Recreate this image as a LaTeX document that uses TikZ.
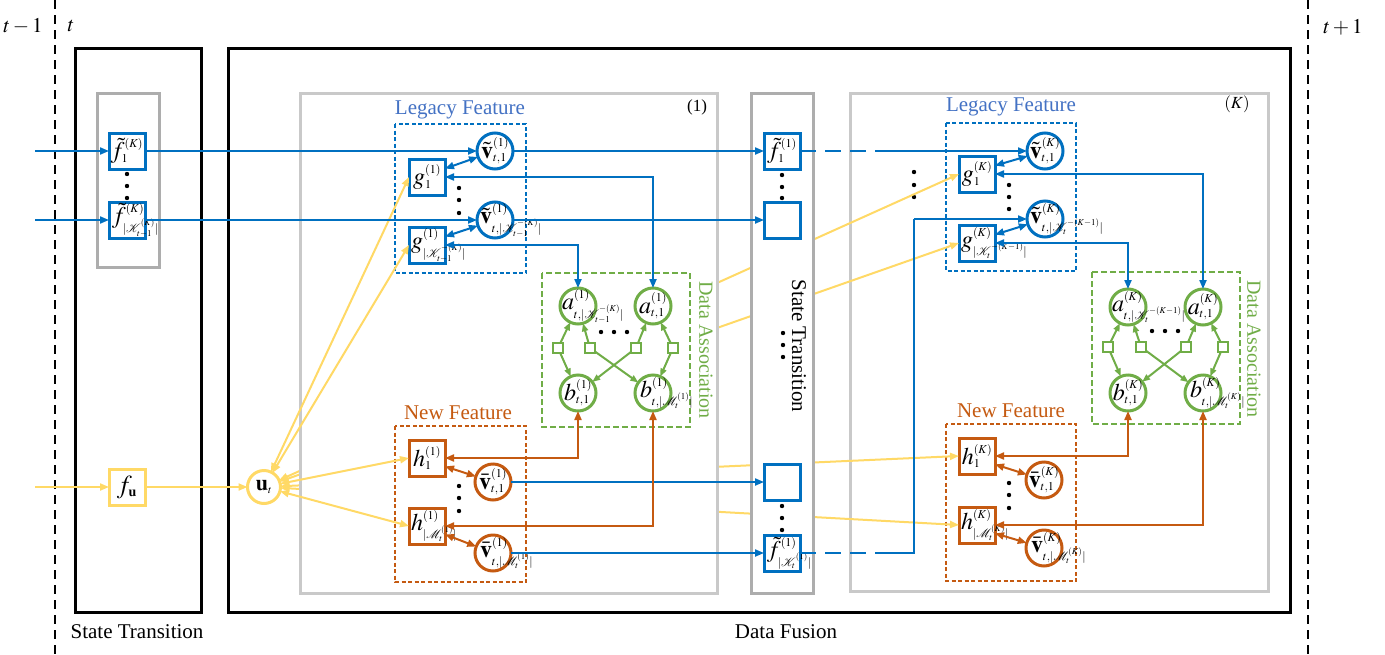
\documentclass[tikz,border=0pt]{standalone}
\usepackage{mathptmx}
\usepackage{fontspec}
\setmainfont{Liberation Serif}
\DeclareMathSizes{24}{24}{12}{9}
\DeclareMathSizes{26}{26}{14}{10}
\DeclareMathSizes{22}{22}{11}{8}
\usetikzlibrary{arrows.meta}
\definecolor{bl}{HTML}{0070C0}
\definecolor{lbl}{HTML}{4472C4}
\definecolor{orn}{HTML}{C55A11}
\definecolor{grn}{HTML}{70AD47}
\definecolor{yel}{HTML}{FFD966}
\definecolor{gA}{HTML}{C9C9C9}
\definecolor{gB}{HTML}{ADADAD}
\newcommand\nf{\fontsize{24}{26}\selectfont}
\newcommand\lf{\fontsize{21}{24}\selectfont}
\newcommand\inlab[1]{\makebox[0pt]{$#1$}}
\newcommand\leftlab[2][15]{\makebox[0pt][l]{\hspace*{-#1pt}$#2$}}
\newcommand\cK{\mathcal{K}}
\newcommand\cM{\mathcal{M}}
\tikzset{
  every node/.style={inner sep=0pt, outer sep=0pt},
  nbox/.style={rectangle, line width=3pt, fill=white, minimum width=36pt, minimum height=36pt, font=\nf},
  bbox/.style={nbox, draw=bl},
  obox/.style={nbox, draw=orn},
  ybox/.style={nbox, draw=yel},
  ncirc/.style={circle, line width=3pt, fill=white, minimum size=36pt, font=\nf},
  bcirc/.style={ncirc, draw=bl},
  ocirc/.style={ncirc, draw=orn},
  gcirc/.style={ncirc, draw=grn},
  ycirc/.style={ncirc, draw=yel, minimum size=33pt},
  fac/.style={rectangle, draw=grn, line width=1.5pt, fill=white, minimum size=10pt},
  ah/.style={-{Triangle[length=9pt,width=7pt]}},
  dah/.style={{Triangle[length=9pt,width=7pt]}-{Triangle[length=9pt,width=7pt]}},
  bline/.style={draw=bl, line width=2pt},
  oline/.style={draw=orn, line width=2pt},
  gline/.style={draw=grn, line width=2pt},
  yline/.style={draw=yel, line width=2pt},
  lab/.style={font=\lf},
  fdash/.style={line width=1.2pt, dash pattern=on 4pt off 2.5pt},
}
\begin{document}
\begin{tikzpicture}[x=1pt,y=-1pt]
\useasboundingbox (0,0) rectangle (1385,654);
% time separators
\draw[line width=2pt, dash pattern=on 9pt off 6pt] (55,0) -- (55,654);
\draw[line width=2pt, dash pattern=on 9pt off 6pt] (1308,0) -- (1308,654);
\node[lab] (tm1) at (23,26) {$t-1$};
\node[lab] (tt) at (71,26) {$t$};
\node[lab] (tp1) at (1343,27) {$t+1$};
% outer boxes
\draw[line width=3pt] (75,48) rectangle (201,612);
\draw[line width=3pt] (228,48) rectangle (1290,612);
\node[lab] (stlab) at (137,632) {State Transition};
\node[lab] (dflab) at (786,632) {Data Fusion};
% state transition column
\draw[gB, line width=3pt] (97,93) rectangle (159,267);
\node[bbox] (fs1) at (127,151) {\inlab{\tilde f_1^{(K)}}};
\node[bbox] (fsK) at (127,220) {\leftlab{\tilde f^{(K)}_{|\cK^{(K)}_{t-1}|}}};
\foreach \y in {174,186,198} \fill (127,\y) circle[radius=2.2];
\node[ybox, font=\fontsize{26}{28}\selectfont] (fu) at (127,487) {\inlab{f_{\mathbf u}}};
\node[ycirc, font=\fontsize{22}{24}\selectfont] (u) at (264,487) {\inlab{\mathbf u_t}};
\coordinate (inA) at (35,151);
\coordinate (inB) at (35,220);
\coordinate (inC) at (35,487);

% ===== (K) block =====
\draw[gA, line width=3pt, fill=white] (850,93) rectangle (1268,591);
\node[font=\fontsize{17}{19}\selectfont] (klab) at (1237,104) {$(K)$};
\draw[bl, fdash] (946,123) rectangle (1076,271);
\node[lab, text=lbl] (lfK) at (1011,107) {Legacy Feature};
\node[bbox] (g1K) at (977,174) {\inlab{g_1^{(K)}}};
\node[bbox] (gKK) at (977,243) {\leftlab[16]{g^{(K)}_{|\cK^{-(K-1)}_t|}}};
\node[bcirc] (v1K) at (1045,151) {\inlab{\tilde{\mathbf v}^{(K)}_{t,1}}};
\node[bcirc] (vKK) at (1045,219) {\leftlab{\tilde{\mathbf v}^{(K)}_{t,|\cK^{-(K-1)}_t|}}};
\foreach \y in {185,197,209} \fill (1009,\y) circle[radius=2.2];
\foreach \y in {172,185,197} \fill (914,\y) circle[radius=2.2];
\draw[grn, line width=2pt, dash pattern=on 6pt off 3pt] (1092,272) rectangle (1240,424);
\node[lab, text=grn, rotate=-90, font=\fontsize{20}{22}\selectfont] (daK) at (1254,349) {Data Association};
\node[gcirc] (aKK) at (1128,307) {\leftlab[16]{a^{(K)}_{t,|\cK^{-(K-1)}_t|}}};
\node[gcirc] (a1K) at (1203,307) {\inlab{a^{(K)}_{t,1}}};
\node[gcirc] (b1K) at (1128,393) {\inlab{b^{(K)}_{t,1}}};
\node[gcirc] (bMK) at (1203,393) {\leftlab[13]{b^{(K)}_{t,|\cM^{(K)}_t|}}};
\node[fac] (sK1) at (1108,347) {};
\node[fac] (sK2) at (1141,347) {};
\node[fac] (sK3) at (1186,347) {};
\node[fac] (sK4) at (1223,347) {};
\foreach \x in {1152,1165,1178} \fill (\x,331) circle[radius=2.2];
\draw[orn, fdash] (946,424) rectangle (1076,581);
\node[lab, text=orn] (nfK) at (1011,411) {New Feature};
\node[obox] (h1K) at (977,456) {\inlab{h_1^{(K)}}};
\node[obox] (hMK) at (977,525) {\leftlab[16]{h^{(K)}_{|\cM^{(K)}_t|}}};
\node[ocirc] (vb1K) at (1044,480) {\inlab{\bar{\mathbf v}^{(K)}_{t,1}}};
\node[ocirc] (vbMK) at (1044,548) {\leftlab[13]{\bar{\mathbf v}^{(K)}_{t,|\cM^{(K)}_t|}}};
\foreach \y in {483,495,508} \fill (1009,\y) circle[radius=2.2];

% yellow links from u_t to block (K), partly hidden
\draw[yline, dah] (u) -- (g1K.west);
\draw[yline, dah] (u) -- (gKK.west);
\draw[yline, dah] (u) -- (h1K.west);
\draw[yline, dah] (u) -- (hMK.west);

% ===== (1) block =====
\draw[gA, line width=3pt, fill=white] (300,93) rectangle (717,593);
\node[font=\fontsize{17}{19}\selectfont] (onelab) at (697,107) {(1)};
% middle state transition column
\draw[gB, line width=3pt, fill=white] (751,93) rectangle (813,593);
\node[lab, rotate=-90] (mst) at (799,346) {State Transition};
\foreach \y in {333,345,357} \fill (783,\y) circle[radius=2.2];
\node[bbox] (mf1) at (782,151) {\inlab{\tilde f_1^{(1)}}};
\node[bbox] (mfK) at (782,220) {};
\foreach \y in {175,187,198} \fill (782,\y) circle[radius=2.2];
\node[bbox] (mb1) at (782,482) {};
\node[bbox] (mbK) at (782,553) {\leftlab{\tilde f^{(1)}_{|\cK^{(1)}_t|}}};
\foreach \y in {506,518,530} \fill (782,\y) circle[radius=2.2];

\draw[bl, fdash] (395,124) rectangle (526,273);
\node[lab, text=lbl] (lf1) at (460,110) {Legacy Feature};
\node[bbox] (g1) at (427,177) {\inlab{g_1^{(1)}}};
\node[bbox] (gK) at (427,245) {\leftlab[16]{g^{(1)}_{|\cK^{-(K)}_{t-1}|}}};
\node[bcirc] (v1) at (495,151) {\inlab{\tilde{\mathbf v}^{(1)}_{t,1}}};
\node[bcirc] (vK) at (495,220) {\leftlab{\tilde{\mathbf v}^{(1)}_{t,|\cK^{-(K)}_{t-1}|}}};
\foreach \y in {188,200,213} \fill (459,\y) circle[radius=2.2];

\draw[grn, line width=2pt, dash pattern=on 6pt off 3pt] (542,273) rectangle (690,427);
\node[lab, text=grn, rotate=-90, font=\fontsize{20}{22}\selectfont] (da1) at (706,350) {Data Association};
\node[gcirc] (aK) at (578,306) {\leftlab[16]{a^{(1)}_{t,|\cK^{-(K)}_{t-1}|}}};
\node[gcirc] (a1) at (653,306) {\inlab{a^{(1)}_{t,1}}};
\node[gcirc] (b1) at (578,393) {\inlab{b^{(1)}_{t,1}}};
\node[gcirc] (bM) at (653,393) {\leftlab[13]{b^{(1)}_{t,|\cM^{(1)}_t|}}};
\node[fac] (s1) at (558,348) {};
\node[fac] (s2) at (590,348) {};
\node[fac] (s3) at (636,348) {};
\node[fac] (s4) at (673,348) {};
\foreach \x in {601,614,627} \fill (\x,332) circle[radius=2.2];

\draw[orn, fdash] (395,426) rectangle (526,582);
\node[lab, text=orn] (nf1) at (458,413) {New Feature};
\node[obox] (h1) at (427,458) {\inlab{h_1^{(1)}}};
\node[obox] (hM) at (427,526) {\leftlab[16]{h^{(1)}_{|\cM^{(1)}_t|}}};
\node[ocirc] (vb1) at (493,482) {\inlab{\bar{\mathbf v}^{(1)}_{t,1}}};
\node[ocirc] (vbM) at (493,553) {\leftlab[13]{\bar{\mathbf v}^{(1)}_{t,|\cM^{(1)}_t|}}};
\foreach \y in {486,498,511} \fill (459,\y) circle[radius=2.2];

% ===== connectors =====
% yellow
\draw[yline, ah] (inC) -- (fu);
\draw[yline, ah] (fu) -- (u);
\draw[yline, dah] (u) -- (g1.west);
\draw[yline, dah] (u) -- (gK.west);
\draw[yline, dah] (u) -- (h1.west);
\draw[yline, dah] (u) -- (hM.west);
% blue
\draw[bline, ah] (inA) -- (fs1);
\draw[bline, ah] (inB) -- (fsK);
\draw[bline, ah] (fs1) -- (v1);
\draw[bline, ah] (fsK) -- (vK);
\draw[bline, ah] (v1) -- (mf1);
\draw[bline, ah] (vK) -- (mfK);
\draw[bline, ah] (vb1) -- (mb1);
\draw[bline, ah] (vbM) -- (mbK);
\draw[bline, dah] (g1.east) -| (a1);
\draw[bline, dah] (gK.east) -| (aK);
\draw[bline, dah] (g1.25) -- (v1);
\draw[bline, dah] (gK.25) -- (vK);
\coordinate (dA) at (880,151);
\coordinate (dB) at (880,553);
\coordinate (cB) at (914,219);
\draw[bline, dash pattern=on 16pt off 9pt] (mf1) -- (dA);
\draw[bline, ah] (dA) -- (v1K);
\draw[bline, dash pattern=on 16pt off 9pt] (mbK) -- (dB);
\draw[bline] (dB) -| (cB);
\draw[bline, ah] (cB) -- (vKK);
\draw[bline, dah] (g1K.east) -| (a1K);
\draw[bline, dah] (gKK.east) -| (aKK);
\draw[bline, dah] (g1K.25) -- (v1K);
\draw[bline, dah] (gKK.25) -- (vKK);
% orange
\draw[oline, dah] (h1.east) -| (b1);
\draw[oline, dah] (hM.east) -| (bM);
\draw[oline, dah] (h1.-25) -- (vb1);
\draw[oline, dah] (hM.-25) -- (vbM);
\draw[oline, dah] (h1K.east) -| (b1K);
\draw[oline, dah] (hMK.east) -| (bMK);
\draw[oline, dah] (h1K.-25) -- (vb1K);
\draw[oline, dah] (hMK.-25) -- (vbMK);
% green factor edges
\foreach \s/\t in {s1/aK, s1/b1, s2/aK, s2/bM, s3/a1, s3/b1, s4/a1, s4/bM,
                   sK1/aKK, sK1/b1K, sK2/aKK, sK2/bMK, sK3/a1K, sK3/b1K, sK4/a1K, sK4/bMK}
  \draw[gline, -{Triangle[length=8pt,width=6pt]}] (\s) -- (\t);
\end{tikzpicture}
\end{document}
